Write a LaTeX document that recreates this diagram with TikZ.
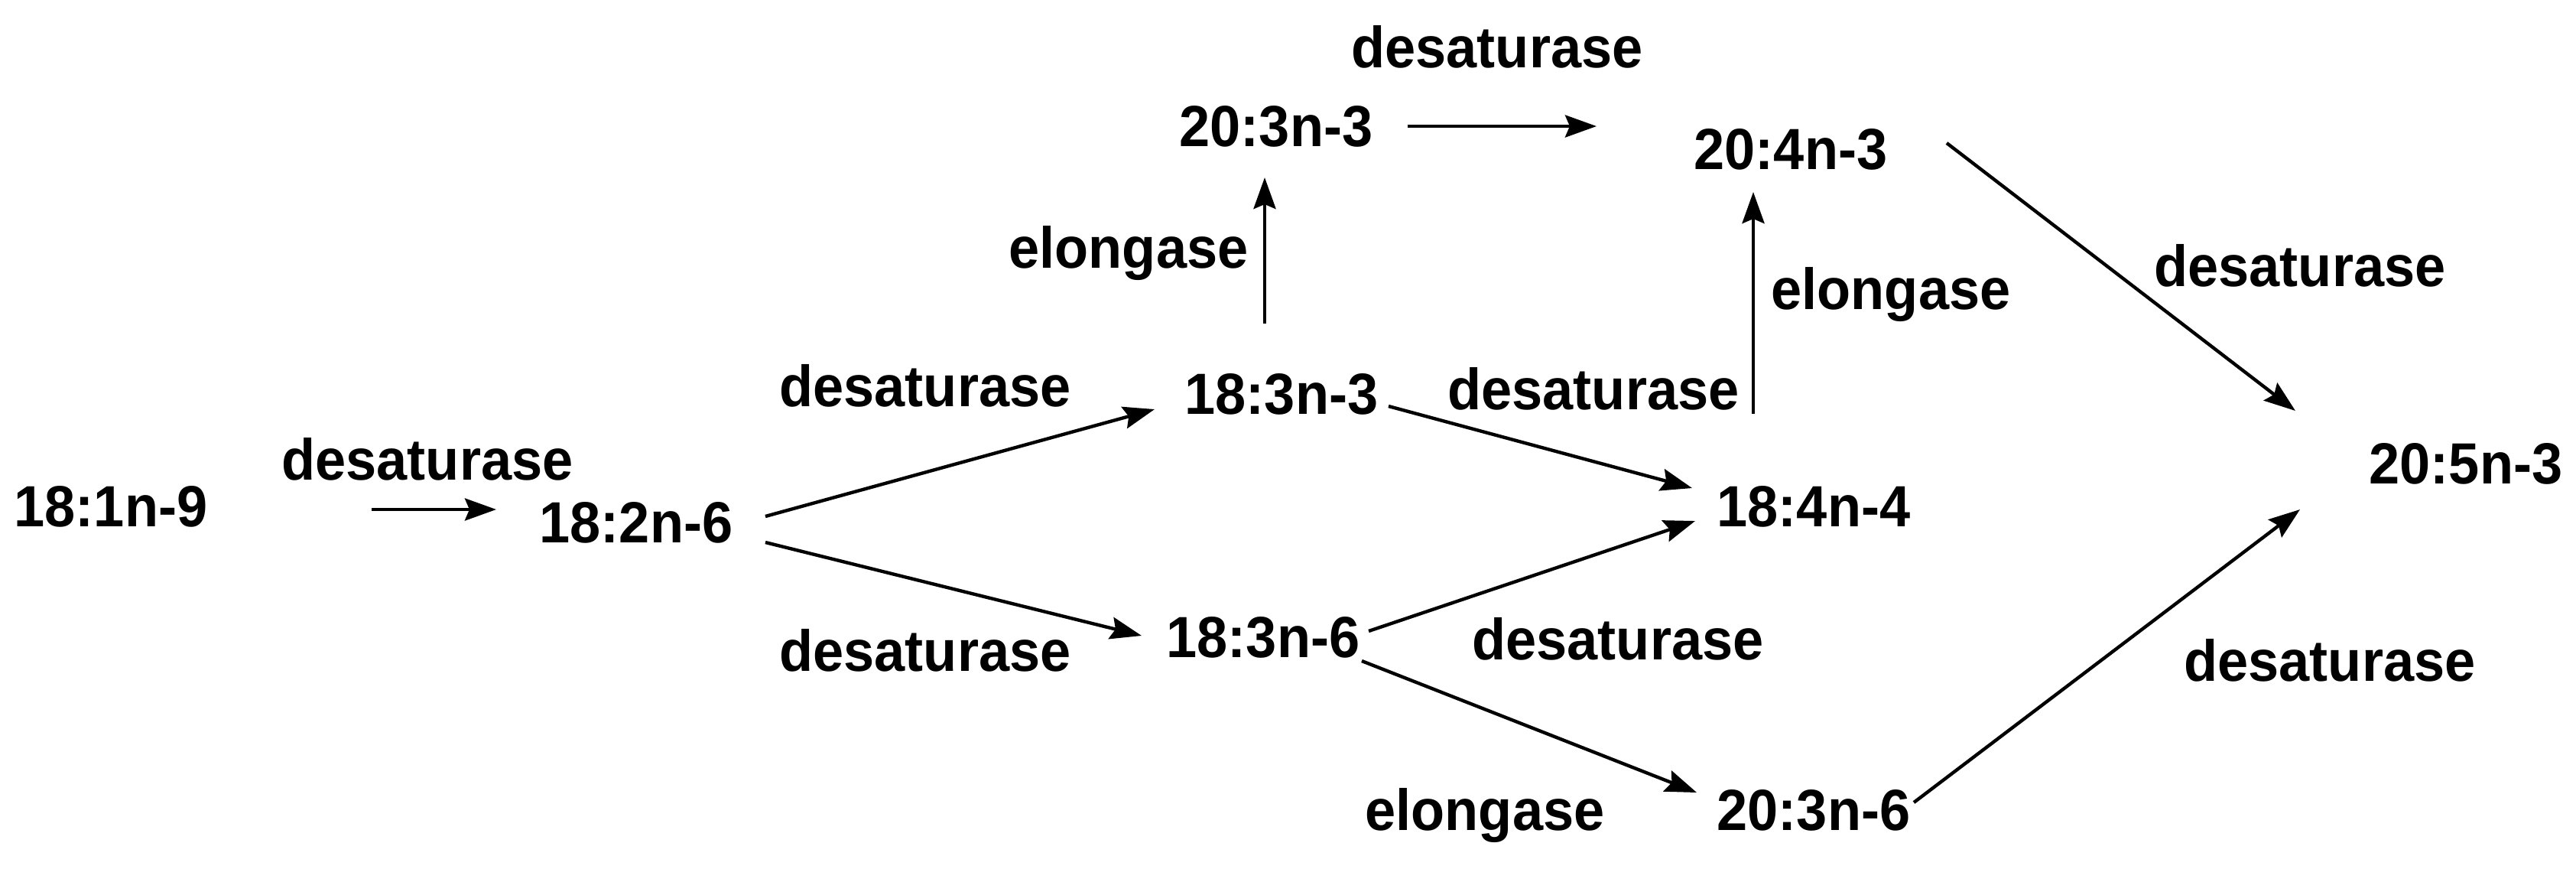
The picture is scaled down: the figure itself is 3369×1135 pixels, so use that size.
\documentclass[tikz,border=0pt]{standalone}
\usepackage{fontspec}
\setmainfont{Liberation Sans}[FakeStretch=0.95]
\usetikzlibrary{arrows.meta,calc}
\tikzset{
  lbl/.style={inner sep=0pt, anchor=base, font=\bfseries\fontsize{21.6}{26}\selectfont},
  acid/.style={lbl},
  arr/.style={line width=1.25pt, -{Stealth[length=0.41cm,width=0.29cm,inset=0.06cm]}}
}
\begin{document}
\begin{tikzpicture}[x=0.01cm,y=-0.01cm]
\useasboundingbox[fill=white] (0,0) rectangle (3369,1135);
% fatty acids
\node[acid] (A) at (145,688) {18:1n-9};
\node[acid] (B) at (832,709) {18:2n-6};
\node[acid] (C) at (1676,541) {18:3n-3};
\node[acid] (D) at (1652,859) {18:3n-6};
\node[acid] (E) at (1669,191) {20:3n-3};
\node[acid] (F) at (2342,221) {20:4n-3};
\node[acid] (G) at (2372,688) {18:4n-4};
\node[acid] (H) at (2372,1085) {20:3n-6};
\node[acid] (I) at (3225,632) {20:5n-3};
% enzyme labels
\node[lbl] (l1) at (559,627) {desaturase};
\node[lbl] (l2) at (1210,531) {desaturase};
\node[lbl] (l3) at (1210,877) {desaturase};
\node[lbl] (l4) at (1476,350) {elongase};
\node[lbl] (l5) at (1958,88) {desaturase};
\node[lbl] (l6) at (2473,404) {elongase};
\node[lbl] (l7) at (2084,535) {desaturase};
\node[lbl] (l8) at (2116,862) {desaturase};
\node[lbl] (l9) at (1942,1085) {elongase};
\node[lbl] (l10) at (3008,374) {desaturase};
\node[lbl] (l11) at (3047,890) {desaturase};
% connectors
\draw[arr] ($(A.base)+(341,-22)$) -- ($(B.base)+(-183,-43)$);
\draw[arr] ($(B.base)+(169,-34)$) -- ($(C.base)+(-166,-6)$);
\draw[arr] ($(B.base)+(169,0)$) -- ($(D.base)+(-159,-28)$);
\draw[arr] ($(C.base)+(-22,-118)$) -- ($(E.base)+(-15,41)$);
\draw[arr] ($(E.base)+(172,-26)$) -- ($(F.base)+(-254,-56)$);
\draw[arr] ($(C.base)+(140,-10)$) -- ($(G.base)+(-159,-50)$);
\draw[arr] ($(D.base)+(138,-34)$) -- ($(G.base)+(-155,-7)$);
\draw[arr] ($(G.base)+(-79,-147)$) -- ($(F.base)+(-49,30)$);
\draw[arr] ($(D.base)+(129,5)$) -- ($(H.base)+(-153,-49)$);
\draw[arr] ($(F.base)+(204,-34)$) -- ($(I.base)+(-223,-95)$);
\draw[arr] ($(H.base)+(131,-36)$) -- ($(I.base)+(-217,34)$);
\end{tikzpicture}
\end{document}
